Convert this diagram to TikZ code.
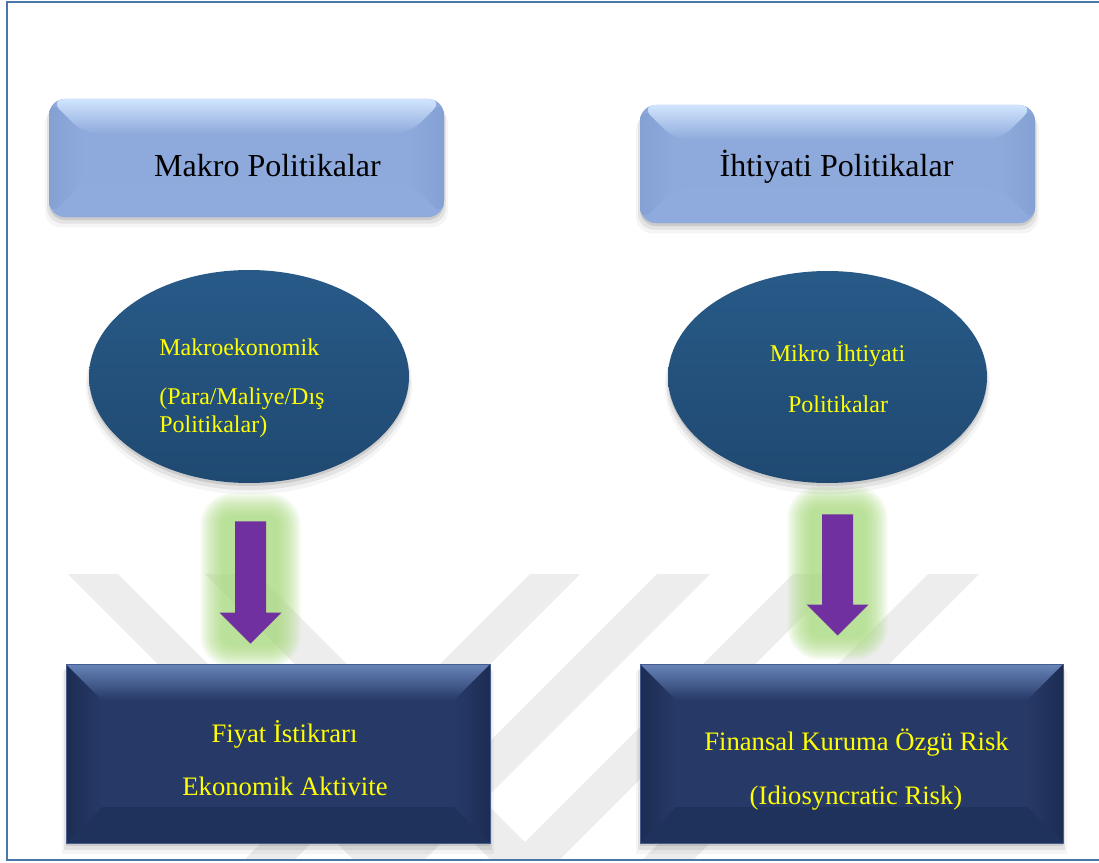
\documentclass[tikz,border=0pt]{standalone}
\usepackage{fontspec}
\setmainfont{Liberation Serif}
\usetikzlibrary{calc,shapes.geometric,shadows}
\newdimen\pxu \pxu=0.75pt
\definecolor{frameblue}{RGB}{74,118,168}
\definecolor{lbmain}{RGB}{142,169,219}
\definecolor{lbtop}{RGB}{208,229,253}
\definecolor{lbside}{RGB}{133,160,211}
\definecolor{lbbot}{RGB}{143,170,220}
\definecolor{ellT}{RGB}{40,90,136}
\definecolor{ellM}{RGB}{36,84,128}
\definecolor{ellB}{RGB}{31,73,113}
\definecolor{dbmain}{RGB}{39,58,103}
\definecolor{dbtop}{RGB}{104,132,186}
\definecolor{dbside}{RGB}{28,44,84}
\definecolor{dbbot}{RGB}{31,50,92}
\definecolor{dbedge}{RGB}{70,92,140}
\definecolor{arrowpurple}{RGB}{112,48,160}
\definecolor{glowgreen}{RGB}{165,218,118}
\definecolor{wmgrey}{RGB}{237,237,237}
\definecolor{txtyellow}{RGB}{255,255,0}
\pgfdeclarelayer{back}
\pgfsetlayers{back,main}
\newcommand\fatarrow[2]{%
  \fill[arrowpurple] ($(#1)+(-15.5,0)$) -- ($(#1)+(15.5,0)$) -- ($(#2)+(15.5,-31)$)
    -- ($(#2)+(31,-31)$) -- (#2) -- ($(#2)+(-31,-31)$) -- ($(#2)+(-15.5,-31)$) -- cycle;}
\newcommand\glowaround[2]{%
  \foreach \k in {0,...,11}{%
    \pgfmathsetmacro\gk{2*\k}%
    \pgfmathsetmacro\rk{10+2*\k}%
    \fill[glowgreen, opacity=0.1, rounded corners=\rk\pxu]
      ($(#1)+(-28-\gk,-6-\gk)$) rectangle ($(#2)+(28+\gk,2+\gk)$);}}
\tikzset{
  softshadow/.style={
    general shadow={fill=black, opacity=0.10, shadow yshift=-3\pxu},
    general shadow={fill=black, opacity=0.07, shadow yshift=-6\pxu, shadow scale=1.01},
    general shadow={fill=black, opacity=0.04, shadow yshift=-9\pxu, shadow scale=1.02}},
  topbox/.style={rectangle, rounded corners=16\pxu, inner sep=0pt,
    minimum width=395\pxu, minimum height=118\pxu, fill=lbmain, softshadow,
    path picture={
      \path (path picture bounding box.north west) coordinate (qNW)
            (path picture bounding box.north east) coordinate (qNE)
            (path picture bounding box.south west) coordinate (qSW)
            (path picture bounding box.south east) coordinate (qSE);
      \shade[left color=lbside, right color=lbmain] (qNW) -- ($(qNW)+(35,35)$) -- ($(qSW)+(35,-35)$) -- (qSW) -- cycle;
      \shade[left color=lbmain, right color=lbside] (qNE) -- ($(qNE)+(-35,35)$) -- ($(qSE)+(-35,-35)$) -- (qSE) -- cycle;
      \fill[lbbot] (qSW) -- ($(qSW)+(35,-35)$) -- ($(qSE)+(-35,-35)$) -- (qSE) -- cycle;
      \shade[top color=lbtop, bottom color=lbmain] (qNW) -- (qNE) -- ($(qNE)+(-35,35)$) -- ($(qNW)+(35,35)$) -- cycle;
    }},
  darkbox/.style={rectangle, inner sep=0pt, minimum height=179\pxu, fill=dbmain,
    draw=dbedge, line width=1\pxu, softshadow,
    path picture={
      \path (path picture bounding box.north west) coordinate (qNW)
            (path picture bounding box.north east) coordinate (qNE)
            (path picture bounding box.south west) coordinate (qSW)
            (path picture bounding box.south east) coordinate (qSE);
      \shade[left color=dbside, right color=dbmain] (qNW) -- ($(qNW)+(36,36)$) -- ($(qSW)+(36,-36)$) -- (qSW) -- cycle;
      \shade[left color=dbmain, right color=dbside] (qNE) -- ($(qNE)+(-36,36)$) -- ($(qSE)+(-36,-36)$) -- (qSE) -- cycle;
      \fill[dbbot] (qSW) -- ($(qSW)+(36,-36)$) -- ($(qSE)+(-36,-36)$) -- (qSE) -- cycle;
      \shade[top color=dbtop, bottom color=dbmain] (qNW) -- (qNE) -- ($(qNE)+(-36,36)$) -- ($(qNW)+(36,36)$) -- cycle;
    }},
  ellnode/.style={ellipse, inner sep=0pt, top color=ellT, middle color=ellM, bottom color=ellB,
    softshadow},
  ttop/.style={font=\fontsize{24}{29}\selectfont, text=black, inner sep=0pt, anchor=base},
  tell/.style={font=\fontsize{18}{21}\selectfont, text=txtyellow, inner sep=0pt, anchor=base},
  tbot/.style={font=\fontsize{20}{24}\selectfont, text=txtyellow, inner sep=0pt, anchor=base},
}
\begin{document}
\begin{tikzpicture}[x=0.75pt,y=-0.75pt]
\useasboundingbox (0,0) rectangle (1099,863);

% background and watermark
\begin{pgfonlayer}{back}
\fill[white] (0,0) rectangle (1099,863);
\begin{scope}
\clip (8,574) rectangle (1099,859);
\fill[wmgrey] (68,574) -- (118,574) -- (404,860) -- (354,860) -- cycle;
\fill[wmgrey] (205,574) -- (257,574) -- (543,860) -- (491,860) -- cycle;
\fill[wmgrey] (530,574) -- (580,574) -- (294,860) -- (244,860) -- cycle;
\fill[wmgrey] (657,574) -- (710,574) -- (424,860) -- (371,860) -- cycle;
\fill[wmgrey] (793,574) -- (845,574) -- (559,860) -- (507,860) -- cycle;
\fill[wmgrey] (928,574) -- (979,574) -- (693,860) -- (642,860) -- cycle;
\end{scope}
\end{pgfonlayer}

% top boxes
\node[topbox] (mp) at (246.5,158) {};
\node[topbox] (ip) at (837.5,164) {};
\node[ttop] (mpt) at (267.5,176) {Makro Politikalar};
\node[ttop] (ipt) at (836.5,176) {İhtiyati Politikalar};

% ellipses
\node[ellnode, minimum width=320\pxu, minimum height=213\pxu] (ellL) at (249,376.5) {};
\node[ellnode, minimum width=319\pxu, minimum height=212\pxu] (ellR) at (827.5,377) {};
\node[tell, anchor=base west] (el1) at (159,355) {Makroekonomik};
\node[tell, anchor=base west] (el2) at (159,404) {(Para/Maliye/Dış};
\node[tell, anchor=base west] (el3) at (159,432) {Politikalar)};
\node[tell] (er1) at (837.5,361) {Mikro İhtiyati};
\node[tell] (er2) at (838,412) {Politikalar};

% bottom boxes
\node[darkbox, minimum width=424\pxu] (boxL) at (278,753.5) {};
\node[darkbox, minimum width=423\pxu] (boxR) at (851.5,753.5) {};
\node[tbot] (bl1) at (284.5,742) {Fiyat İstikrarı};
\node[tbot] (bl2) at (285,795) {Ekonomik Aktivite};
\node[tbot] (br1) at (856.5,750) {Finansal Kuruma Özgü Risk};
\node[tbot] (br2) at (856,804) {(Idiosyncratic Risk)};

% arrows
\coordinate (a1s) at ($(ellL.south)+(1.5,38)$);
\coordinate (b1n) at ($(boxL.north)+(0,-20)$);
\coordinate (a1t) at (a1s |- b1n);
\coordinate (a2s) at ($(ellR.south)+(10,31)$);
\coordinate (b2n) at ($(boxR.north)+(0,-28)$);
\coordinate (a2t) at (a2s |- b2n);
\begin{pgfonlayer}{back}
\glowaround{a1s}{a1t}
\glowaround{a2s}{a2t}
\end{pgfonlayer}
\fatarrow{a1s}{a1t}
\fatarrow{a2s}{a2t}

% frame
\draw[frameblue, line width=2.5\pxu] (1110,2) -- (7,2) -- (7,860) -- (1110,860);
\end{tikzpicture}
\end{document}
